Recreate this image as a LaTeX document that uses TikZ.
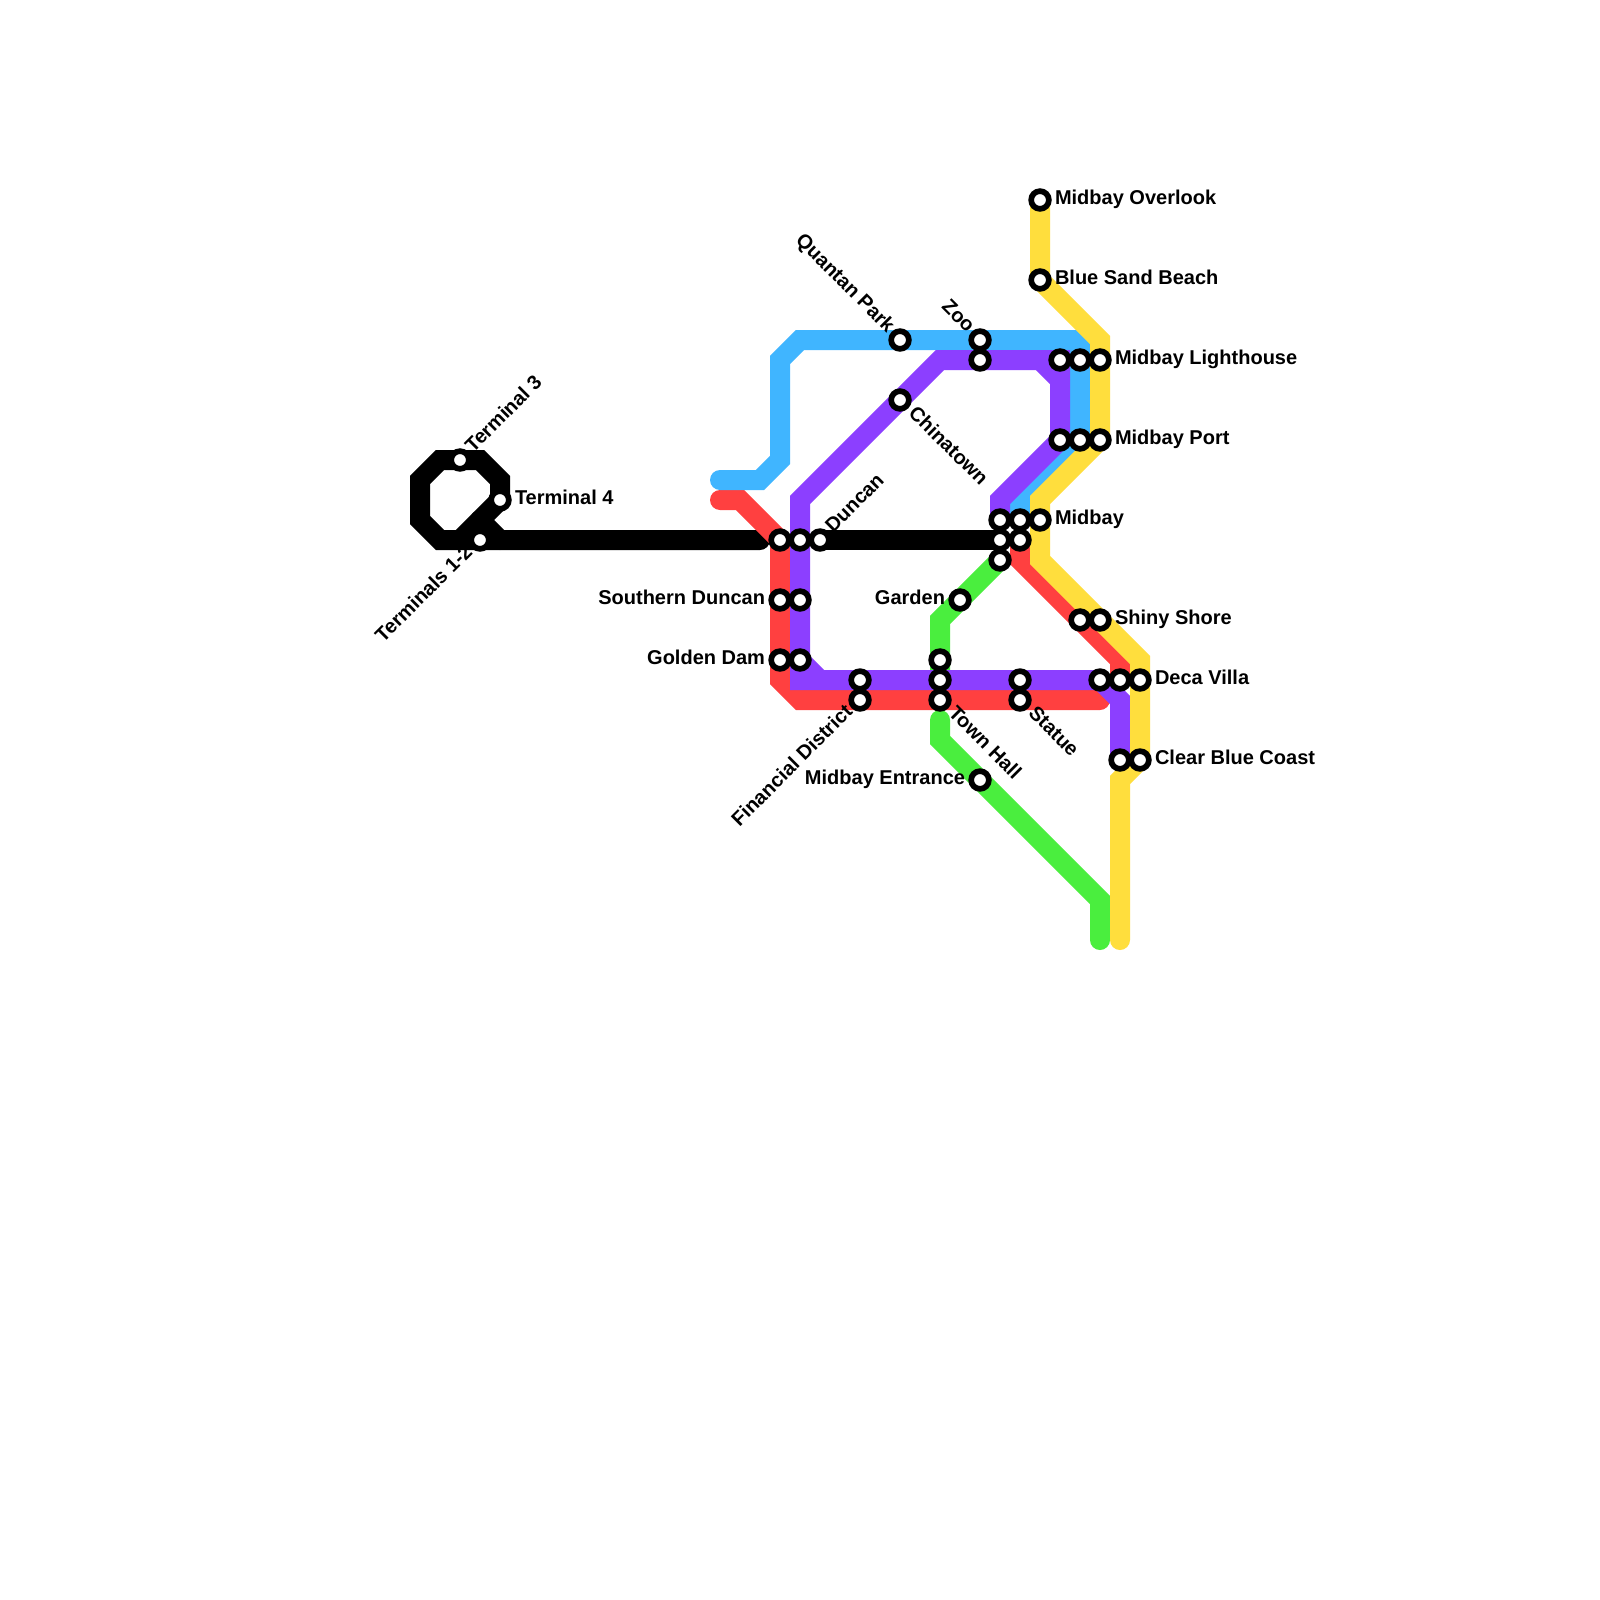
\documentclass[tikz,border=0pt]{standalone}
\usepackage{fontspec}
\setmainfont{Liberation Sans}
\definecolor{cblack}{HTML}{000000}
\definecolor{cred}{HTML}{FF4040}
\definecolor{cblue}{HTML}{40B5FF}
\definecolor{cgreen}{HTML}{4AEE3E}
\definecolor{cpurple}{HTML}{8C3FFF}
\definecolor{cyellow}{HTML}{FFDE3D}
\tikzset{
  route/.style={line width=20pt,line cap=round,line join=miter,miter limit=4},
  stn/.style={circle,draw=black,fill=white,line width=5.7pt,minimum size=17.7pt,inner sep=0pt,outer sep=0pt},
  lbl/.style={inner sep=0pt,outer sep=0pt,text height=9.5pt,text depth=0pt,font=\fontsize{20}{22}\bfseries\selectfont,text=black},
  lblR/.style={lbl,anchor=west,xshift=15pt},
  lblL/.style={lbl,anchor=east,xshift=-15pt},
  lblUR/.style={lbl,anchor=west,rotate=45,xshift=14pt},
  lblDL/.style={lbl,anchor=east,rotate=45,xshift=-14pt},
  lblDR/.style={lbl,anchor=west,rotate=-45,xshift=15.5pt},
  lblUL/.style={lbl,anchor=east,rotate=-45,xshift=-14pt},
}
\begin{document}
\begin{tikzpicture}[x=1pt,y=-1pt]
\path[use as bounding box,fill=white] (0,0) rectangle (1600,1600);
% station positions
\foreach \n/\x/\y in {overlook/1040/200,blue/1040/280,
  lightA/1060/360,lightB/1080/360,lightC/1100/360,
  portA/1060/440,portB/1080/440,portC/1100/440,
  midA/1000/520,midB/1020/520,midC/1040/520,midD/1000/540,midE/1020/540,midF/1000/560,
  shinyA/1080/620,shinyB/1100/620,
  decaA/1100/680,decaB/1120/680,decaC/1140/680,
  coastA/1120/760,coastB/1140/760,
  zooA/980/340,zooB/980/360,quantan/900/340,china/900/400,
  dunA/780/540,dunB/800/540,dunC/820/540,
  sdunA/780/600,sdunB/800/600,goldA/780/660,goldB/800/660,
  finA/860/680,finB/860/700,garden/960/600,
  townA/940/660,townB/940/680,townC/940/700,
  statA/1020/680,statB/1020/700,entrance/980/780,
  tthree/460/460,tfour/500/500,tone/480/540}
  {\coordinate (p\n) at (\x,\y);}
% bends
\coordinate (k1) at (760,540);
\coordinate (k2) at (500,540);
\coordinate (k3) at (480,520);
\coordinate (k4) at (460,540);
\coordinate (k5) at (440,540);
\coordinate (k6) at (420,520);
\coordinate (k7) at (420,480);
\coordinate (k8) at (440,460);
\coordinate (k9) at (480,460);
\coordinate (k10) at (500,480);
\coordinate (g1) at (940,620);
\coordinate (g2) at (940,720);
\coordinate (g3) at (940,740);
\coordinate (g4) at (1100,900);
\coordinate (g5) at (1100,940);
\coordinate (r1) at (720,500);
\coordinate (r2) at (740,500);
\coordinate (r3) at (780,680);
\coordinate (r4) at (800,700);
\coordinate (r5) at (1100,700);
\coordinate (r6) at (1020,560);
\coordinate (r7) at (1120,660);
\coordinate (b1) at (720,480);
\coordinate (b2) at (760,480);
\coordinate (b3) at (780,460);
\coordinate (b4) at (780,360);
\coordinate (b5) at (800,340);
\coordinate (b6) at (1080,340);
\coordinate (b8) at (1020,500);
\coordinate (v1) at (1000,500);
\coordinate (v2) at (1040,360);
\coordinate (v3) at (1060,380);
\coordinate (v4) at (940,360);
\coordinate (v5) at (800,500);
\coordinate (v6) at (800,680);
\coordinate (v7) at (820,680);
\coordinate (v8) at (1120,700);
\coordinate (y1) at (1100,340);
\coordinate (y2) at (1040,500);
\coordinate (y3) at (1040,560);
\coordinate (y4) at (1140,660);
\coordinate (y5) at (1120,780);
\coordinate (y6) at (1120,940);
% lines
\draw[route,cblack] (k1) -- (k5) -- (k6) -- (k7) -- (k8) -- (k9) -- (k10) -- (ptfour) -- (k4);
\draw[route,cblack] (k3) -- (k2);
\draw[route,cblack] (pdunC) -- (pmidD);
\draw[route,cgreen] (pmidF) -- (g1) -- (ptownB);
\draw[route,cgreen] (g2) -- (g3) -- (g4) -- (g5);
\draw[route,cred] (r1) -- (r2) -- (pdunA) -- (r3) -- (r4) -- (r5);
\draw[route,cred] (pmidE) -- (r6) -- (r7) -- (pdecaB);
\draw[route,cblue] (b1) -- (b2) -- (b3) -- (b4) -- (b5) -- (b6) -- (pportB) -- (b8) -- (pmidB);
\draw[route,cpurple] (pmidA) -- (v1) -- (pportA) -- (plightA) -- (v4) -- (v5) -- (v6) -- (pdecaA) -- (v8) -- (pcoastA);
\draw[route,cpurple] (v2) -- (v3);
\draw[route,cpurple] (pgoldB) -- (v7);
\draw[route,cyellow] (poverlook) -- (pblue) -- (y1) -- (pportC) -- (y2) -- (y3) -- (y4) -- (pcoastB) -- (y5) -- (y6);
% stations
\foreach \n in {overlook,blue,lightA,lightB,lightC,portA,portB,portC,midF,midD,midE,midA,midB,midC,
  shinyA,shinyB,decaA,decaB,decaC,coastA,coastB,zooA,zooB,quantan,china,dunA,dunB,dunC,
  sdunA,sdunB,goldA,goldB,finA,finB,garden,townA,townB,townC,statA,statB,entrance,tthree,tfour,tone}
  {\node[stn] (\n) at (p\n) {};}
% labels
\node[lblR] (l1) at (overlook) {Midbay Overlook};
\node[lblR] (l2) at (blue) {Blue Sand Beach};
\node[lblR] (l3) at (lightC) {Midbay Lighthouse};
\node[lblR] (l4) at (portC) {Midbay Port};
\node[lblR] (l5) at (midC) {Midbay};
\node[lblR] (l6) at (shinyB) {Shiny Shore};
\node[lblR] (l7) at (decaC) {Deca Villa};
\node[lblR] (l8) at (coastB) {Clear Blue Coast};
\node[lblR] (l9) at (tfour) {Terminal 4};
\node[lblL] (l10) at (sdunA) {Southern Duncan};
\node[lblL] (l11) at (goldA) {Golden Dam};
\node[lblL] (l12) at (garden) {Garden};
\node[lblL] (l13) at (entrance) {Midbay Entrance};
\node[lblUR] (l14) at (tthree) {Terminal 3};
\node[lblUR] (l15) at (dunC) {Duncan};
\node[lblDL] (l16) at (tone) {Terminals 1-2};
\node[lblDL] (l17) at (finB) {Financial District};
\node[lblDR] (l18) at (china) {Chinatown};
\node[lblDR] (l19) at (townC) {Town Hall};
\node[lblDR] (l20) at (statB) {Statue};
\node[lblUL] (l21) at (quantan) {Quantan Park};
\node[lblUL] (l22) at (zooA) {Zoo};
\end{tikzpicture}
\end{document}
